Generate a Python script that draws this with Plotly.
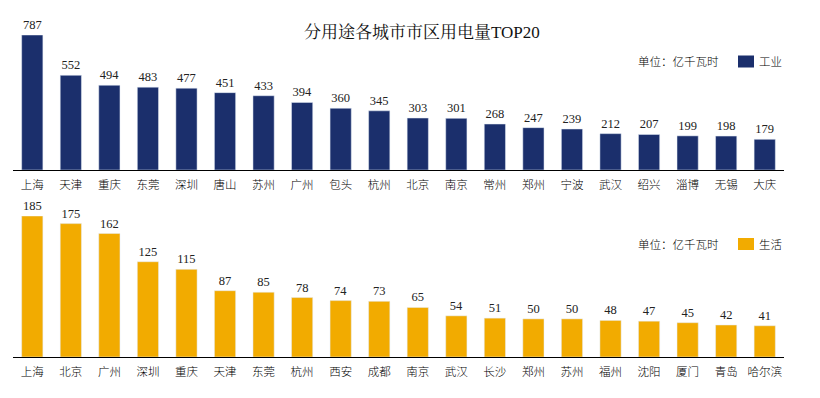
import plotly.graph_objects as go

ind_cities = ["上海","天津","重庆","东莞","深圳","唐山","苏州","广州","包头","杭州",
              "北京","南京","常州","郑州","宁波","武汉","绍兴","淄博","无锡","大庆"]
ind_values = [787,552,494,483,477,451,433,394,360,345,303,301,268,247,239,212,207,199,198,179]

res_cities = ["上海","北京","广州","深圳","重庆","天津","东莞","杭州","西安","成都",
              "南京","武汉","长沙","郑州","苏州","福州","沈阳","厦门","青岛","哈尔滨"]
res_values = [185,175,162,125,115,87,85,78,74,73,65,54,51,50,50,48,47,45,42,41]

title_text = "分用途各城市市区用电量TOP20"
unit_text = "单位：亿千瓦时"
ind_name = "工业"
res_name = "生活"

NAVY = "#1B2F6C"
ORANGE = "#F2AB00"
OFF = 8  # default page body margin
W, H = 820 - OFF, 398 - OFF
CJK = "Noto Sans CJK SC"
SERIF = "Liberation Serif, Noto Serif CJK SC, Noto Sans CJK SC"

def px(x):
    return (x - OFF) / W

def py(y):
    return 1 - (y - OFF) / H

fig = go.Figure()
fig.add_trace(go.Bar(x=list(range(len(ind_cities))), y=ind_values, marker_color=NAVY,
                     width=0.55, text=ind_values, textposition="outside",
                     textfont=dict(family=SERIF, size=12.5, color="#222"),
                     cliponaxis=False, xaxis="x", yaxis="y", showlegend=False,
                     name=ind_name))
fig.add_trace(go.Bar(x=list(range(len(res_cities))), y=res_values, marker_color=ORANGE,
                     width=0.55, text=res_values, textposition="outside",
                     textfont=dict(family=SERIF, size=12.5, color="#222"),
                     cliponaxis=False, xaxis="x2", yaxis="y2", showlegend=False,
                     name=res_name))

xdom = [px(13), px(784)]
common_x = dict(domain=xdom, range=[-0.5, len(ind_cities) - 0.5], showgrid=False,
                showline=True, linecolor="#000", linewidth=1.3, ticks="",
                tickmode="array",
                tickfont=dict(family=CJK, size=11.5, color="#000", weight=300),
                ticklabelstandoff=4, zeroline=False, fixedrange=True)
fig.update_layout(
    width=W, height=H, margin=dict(l=0, r=0, t=0, b=0),
    paper_bgcolor="white", plot_bgcolor="white",
    xaxis=dict(**common_x, anchor="y", tickvals=list(range(len(ind_cities))), ticktext=ind_cities),
    yaxis=dict(domain=[py(170), py(35)], range=[0, 787], visible=False, fixedrange=True),
    xaxis2=dict(**common_x, anchor="y2", tickvals=list(range(len(res_cities))), ticktext=res_cities),
    yaxis2=dict(domain=[py(357), py(216)], range=[0, 185], visible=False, fixedrange=True),
    bargap=0.45,
)

annotations = [
    dict(text=title_text, x=px(422), y=py(32), xref="paper", yref="paper",
         showarrow=False, xanchor="center", yanchor="middle",
         font=dict(family=SERIF, size=17, color="#111")),
]
shapes = []
for name, color, ymid in [(ind_name, NAVY, 61.5), (res_name, ORANGE, 244)]:
    annotations.append(dict(text=unit_text, x=px(636), y=py(ymid), xref="paper", yref="paper",
                            showarrow=False, xanchor="left", yanchor="middle",
                            font=dict(family=CJK, size=11.5, color="#000", weight=300)))
    annotations.append(dict(text=name, x=px(757), y=py(ymid), xref="paper", yref="paper",
                            showarrow=False, xanchor="left", yanchor="middle",
                            font=dict(family=CJK, size=11.5, color="#000", weight=300)))
    shapes.append(dict(type="rect", xref="paper", yref="paper",
                       x0=px(738), x1=px(754), y0=py(ymid + 6), y1=py(ymid - 6),
                       fillcolor=color, line=dict(width=0)))
fig.update_layout(annotations=annotations, shapes=shapes)

fig.write_html("out.html")
